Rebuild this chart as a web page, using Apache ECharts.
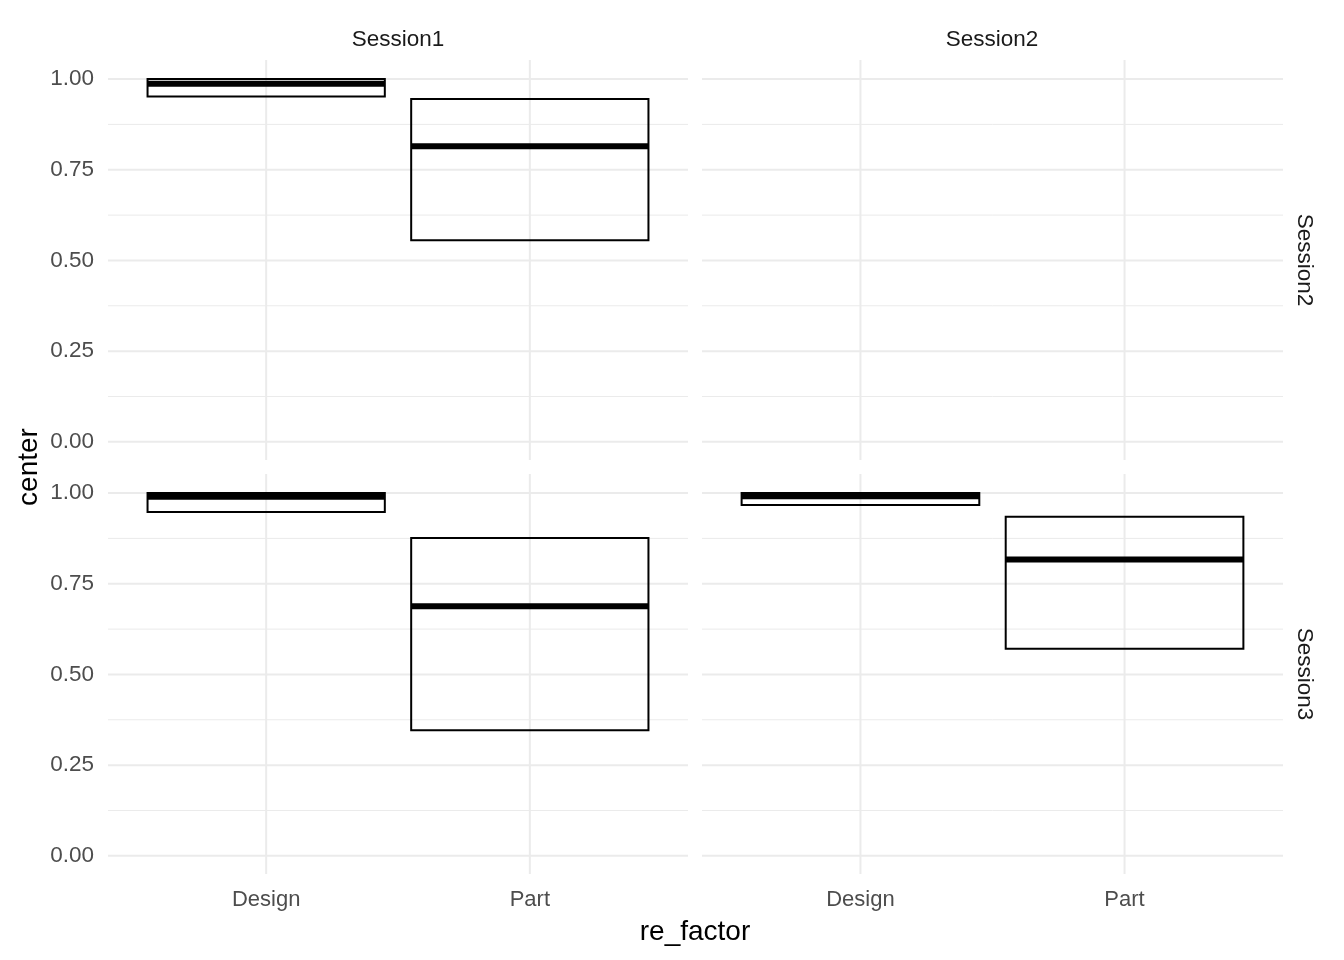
<!DOCTYPE html>
<html>
<head>
<meta charset="utf-8">
<script src="https://cdn.jsdelivr.net/npm/echarts@6/dist/echarts.min.js"></script>
<style>
html,body{margin:0;padding:0;background:#fff;}
#chart{width:1344px;height:960px;}
</style>
</head>
<body>
<div id="chart"></div>
<script>
// ---- data ----
const categories = ['Design', 'Part'];
const colFacets = ['Session1', 'Session2'];
const rowFacets = ['Session2', 'Session3'];
const yTicks = [0, 0.25, 0.5, 0.75, 1.0];
const yMinor = [0.125, 0.375, 0.625, 0.875];
// panel [row][col] : lower, center, upper per category
const row1col1Lower = [0.952, 0.556];
const row1col1Center = [0.987, 0.815];
const row1col1Upper = [1.000, 0.945];
const row1col2Lower = [];
const row1col2Center = [];
const row1col2Upper = [];
const row2col1Lower = [0.948, 0.346];
const row2col1Center = [0.990, 0.688];
const row2col1Upper = [1.000, 0.876];
const row2col2Lower = [0.967, 0.571];
const row2col2Center = [0.991, 0.817];
const row2col2Upper = [1.000, 0.935];

const panels = [
  {lower: row1col1Lower, center: row1col1Center, upper: row1col1Upper},
  {lower: row1col2Lower, center: row1col2Center, upper: row1col2Upper},
  {lower: row2col1Lower, center: row2col1Center, upper: row2col1Upper},
  {lower: row2col2Lower, center: row2col2Center, upper: row2col2Upper}
];

const Y_MIN = -0.0501, Y_MAX = 1.0526, X_MIN = 0.4, X_MAX = 2.6;
const FONT = '"Liberation Sans", Arial, sans-serif';

const gridBoxes = [
  {left: 108, top: 60, width: 580, height: 400},
  {left: 702, top: 60, width: 581, height: 400},
  {left: 108, top: 474, width: 580, height: 400},
  {left: 702, top: 474, width: 581, height: 400}
];

const grids = gridBoxes.map(g => Object.assign({containLabel: false}, g));
const xAxes = gridBoxes.map((g, i) => ({
  gridIndex: i, type: 'value', min: X_MIN, max: X_MAX,
  axisLine: {show: false}, axisTick: {show: false}, splitLine: {show: false},
  axisLabel: {
    show: i >= 2, customValues: [1, 2], margin: 15,
    formatter: v => categories[Math.round(v) - 1] || '',
    color: '#4D4D4D', fontSize: 22, fontFamily: FONT
  }
}));
const yAxes = gridBoxes.map((g, i) => ({
  gridIndex: i, type: 'value', min: Y_MIN, max: Y_MAX,
  axisLine: {show: false}, axisTick: {show: false}, splitLine: {show: false},
  axisLabel: {
    show: i % 2 === 0, customValues: yTicks, margin: 14,
    formatter: v => v.toFixed(2), padding: [4, 0, 0, 0],
    color: '#4D4D4D', fontSize: 22.5, fontFamily: FONT
  }
}));

const series = [];
gridBoxes.forEach((g, i) => {
  // grid lines
  const gl = [];
  yMinor.forEach(v => gl.push(['h', v, 1]));
  yTicks.forEach(v => gl.push(['h', v, 2]));
  [1, 2].forEach(v => gl.push(['v', v, 2]));
  series.push({
    type: 'custom', xAxisIndex: i, yAxisIndex: i, silent: true, z: 1,
    data: gl.map((d, k) => [k]),
    renderItem: (params, api) => {
      const d = gl[params.dataIndex];
      let p1, p2;
      if (d[0] === 'h') { p1 = api.coord([X_MIN, d[1]]); p2 = api.coord([X_MAX, d[1]]); }
      else { p1 = api.coord([d[1], Y_MIN]); p2 = api.coord([d[1], Y_MAX]); }
      return {type: 'line', shape: {x1: p1[0], y1: p1[1], x2: p2[0], y2: p2[1]},
        style: {stroke: '#EBEBEB', lineWidth: d[2]}};
    }
  });
  // crossbars
  const p = panels[i];
  const data = p.center.map((c, k) => [k + 1, p.lower[k], c, p.upper[k]]);
  series.push({
    type: 'custom', xAxisIndex: i, yAxisIndex: i, z: 5,
    data: data,
    renderItem: (params, api) => {
      const x = api.value(0), lo = api.value(1), mid = api.value(2), hi = api.value(3);
      const tl = api.coord([x - 0.45, hi]);
      const br = api.coord([x + 0.45, lo]);
      const ml = api.coord([x - 0.45, mid]);
      const mr = api.coord([x + 0.45, mid]);
      return {type: 'group', children: [
        {type: 'rect', shape: {x: tl[0], y: tl[1], width: br[0] - tl[0], height: br[1] - tl[1]},
          style: {fill: 'none', stroke: '#000', lineWidth: 2}},
        {type: 'line', shape: {x1: ml[0], y1: ml[1], x2: mr[0], y2: mr[1]},
          style: {stroke: '#000', lineWidth: 6}}
      ]};
    }
  });
});

const graphic = [
  {type: 'text', x: 398, y: 40, style: {text: colFacets[0], fill: '#1A1A1A', font: '22.5px ' + FONT, textAlign: 'center', textVerticalAlign: 'middle'}},
  {type: 'text', x: 992, y: 40, style: {text: colFacets[1], fill: '#1A1A1A', font: '22.5px ' + FONT, textAlign: 'center', textVerticalAlign: 'middle'}},
  {type: 'text', x: 1304, y: 260, rotation: -Math.PI / 2, style: {text: rowFacets[0], fill: '#1A1A1A', font: '22.5px ' + FONT, textAlign: 'center', textVerticalAlign: 'middle'}},
  {type: 'text', x: 1304, y: 674, rotation: -Math.PI / 2, style: {text: rowFacets[1], fill: '#1A1A1A', font: '22.5px ' + FONT, textAlign: 'center', textVerticalAlign: 'middle'}},
  {type: 'text', x: 695, y: 932, style: {text: 're_factor', fill: '#000', font: '28px ' + FONT, textAlign: 'center', textVerticalAlign: 'middle'}},
  {type: 'text', x: 29, y: 467, rotation: Math.PI / 2, style: {text: 'center', fill: '#000', font: '28px ' + FONT, textAlign: 'center', textVerticalAlign: 'middle'}}
];

const chart = echarts.init(document.getElementById('chart'), null, {renderer: 'canvas'});
chart.setOption({
  animation: false,
  backgroundColor: '#fff',
  grid: grids, xAxis: xAxes, yAxis: yAxes, series: series, graphic: graphic
});
</script>
</body>
</html>
